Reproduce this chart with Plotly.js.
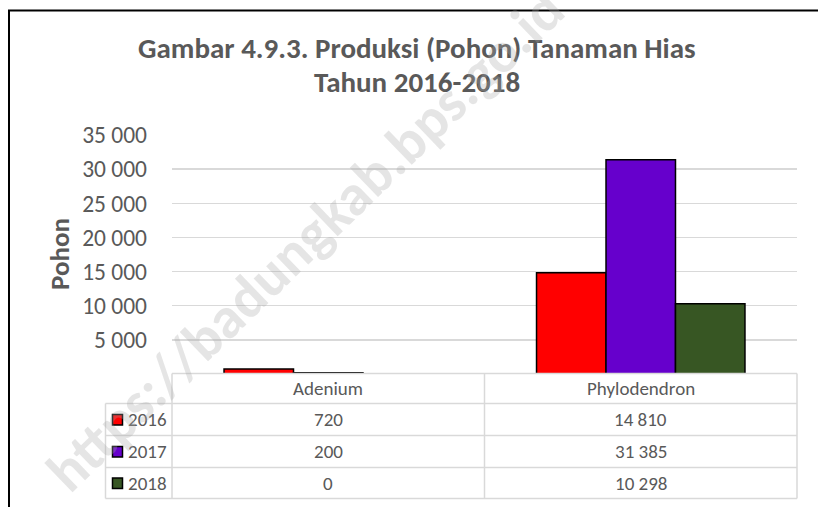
<!DOCTYPE html>
<html>
<head>
<meta charset="utf-8">
<script src="https://cdn.plot.ly/plotly-3.0.1.min.js"></script>
<style>html,body{margin:0;padding:0;background:#fff;}#chart{width:818px;height:507px;}</style>
</head>
<body>
<div id="chart"></div>
<script>
// ---- data ----
var categories = ["Adenium", "Phylodendron"];
var years = ["2016", "2017", "2018"];
var values2016 = [720, 14810];
var values2017 = [200, 31385];
var values2018 = [0, 10298];
var yTicks = [5000, 10000, 15000, 20000, 25000, 30000, 35000];
var seriesColors = ["#FF0000", "#6600CC", "#375623"];
var titleLines = ["Gambar 4.9.3. Produksi (Pohon) Tanaman Hias", "Tahun 2016-2018"];

var seriesValues = [values2016, values2017, values2018];

function fmt(v) { return String(v).replace(/\B(?=(\d{3})+(?!\d))/g, " "); }

// ---- geometry helpers (pixel -> paper) ----
var W = 818, H = 507;
var L = 172, R = 797, T = 135, B = 374;
function px(x) { return (x - L) / (R - L); }
function py(y) { return (B - y) / (B - T); }

var textColor = "#595959";
var font = "Carlito, Calibri, 'Open Sans', sans-serif";
var gridColor = "#d9d9d9";

var traces = years.map(function (yr, i) {
  return {
    type: "bar",
    name: yr,
    x: categories,
    y: seriesValues[i],
    marker: { color: seriesColors[i], line: { color: "#000000", width: 1.5 } },
    hoverinfo: "x+y+name"
  };
});

var shapes = [];
var annotations = [];

// outer chart border
shapes.push({ type: "rect", xref: "paper", yref: "paper",
  x0: px(9), x1: px(840), y0: py(10.5), y1: py(530),
  line: { color: "#000000", width: 2 }, layer: "below" });

// table geometry
var tableTop = 373.5;
var rowLines = [403.5, 435.5, 467.5, 498.5];
var legendLeft = 105.5;
var colLines = [L, (L + R) / 2, R];

function hline(y, x0, x1) {
  shapes.push({ type: "line", xref: "paper", yref: "paper",
    x0: px(x0), x1: px(x1), y0: py(y), y1: py(y),
    line: { color: gridColor, width: 1.5 } });
}
function vline(x, y0, y1) {
  shapes.push({ type: "line", xref: "paper", yref: "paper",
    x0: px(x), x1: px(x), y0: py(y0), y1: py(y1),
    line: { color: gridColor, width: 1.5 } });
}
hline(tableTop, L, R);
rowLines.forEach(function (y) { hline(y, legendLeft, R); });
vline(legendLeft, rowLines[0], rowLines[rowLines.length - 1]);
colLines.forEach(function (x) { vline(x, tableTop, rowLines[rowLines.length - 1]); });

var tableFont = { family: font, size: 19, color: textColor };

// header text
var colW = (R - L) / categories.length;
categories.forEach(function (c, j) {
  annotations.push({ xref: "paper", yref: "paper",
    x: px(L + colW * (j + 0.5)), y: py((tableTop + rowLines[0]) / 2),
    text: c, showarrow: false, xanchor: "center", yanchor: "middle",
    font: tableFont });
});
// rows
years.forEach(function (yr, i) {
  var yc = (rowLines[i] + rowLines[i + 1]) / 2;
  shapes.push({ type: "rect", xref: "paper", yref: "paper",
    x0: px(112.5), x1: px(122.5), y0: py(yc - 5), y1: py(yc + 5.5),
    fillcolor: seriesColors[i], line: { color: "#000000", width: 1.5 } });
  annotations.push({ xref: "paper", yref: "paper",
    x: px(126), y: py(yc), text: yr, showarrow: false,
    xanchor: "left", yanchor: "middle",
    font: tableFont });
  categories.forEach(function (c, j) {
    annotations.push({ xref: "paper", yref: "paper",
      x: px(L + colW * (j + 0.5)), y: py(yc),
      text: fmt(seriesValues[i][j]), showarrow: false,
      xanchor: "center", yanchor: "middle",
      font: tableFont });
  });
});

// title (two lines, Excel-like tighter spacing)
var titleCenters = [48, 82];
titleLines.forEach(function (t, k) {
  annotations.push({ xref: "paper", yref: "paper", x: px(417), y: py(titleCenters[k]),
    text: "<b>" + t + "</b>", showarrow: false, xanchor: "center", yanchor: "middle",
    font: { family: font, size: 29, color: textColor } });
});

// y-axis title
annotations.push({ xref: "paper", yref: "paper", x: px(59), y: py(254),
  text: "<b>Pohon</b>", textangle: -90, showarrow: false,
  xanchor: "center", yanchor: "middle",
  font: { family: font, size: 27, color: textColor } });

// watermark
annotations.push({ xref: "paper", yref: "paper", x: px(305), y: py(240),
  text: "<b>https://badungkab.bps.go.id</b>", textangle: -44, showarrow: false,
  xanchor: "center", yanchor: "middle",
  font: { family: font, size: 58, color: "rgba(170,170,170,0.3)" } });

var layout = {
  width: W, height: H,
  margin: { l: L, r: W - R, t: T, b: H - B, pad: 0 },
  paper_bgcolor: "#ffffff", plot_bgcolor: "#ffffff",
  showlegend: false,
  barmode: "group", bargap: 0.333, bargroupgap: 0,
  xaxis: { showticklabels: false, showgrid: false, zeroline: false, showline: false, ticks: "" },
  yaxis: {
    range: [0, 35000], tickvals: yTicks, ticktext: yTicks.map(fmt),
    showgrid: true, gridcolor: gridColor, gridwidth: 1.5,
    zeroline: false, showline: false, ticks: "",
    ticklabelstandoff: 24,
    tickfont: { family: font, size: 23.5, color: textColor }
  },
  shapes: shapes,
  annotations: annotations
};

Plotly.newPlot("chart", traces, layout, { displayModeBar: false, staticPlot: true });
</script>
</body>
</html>
